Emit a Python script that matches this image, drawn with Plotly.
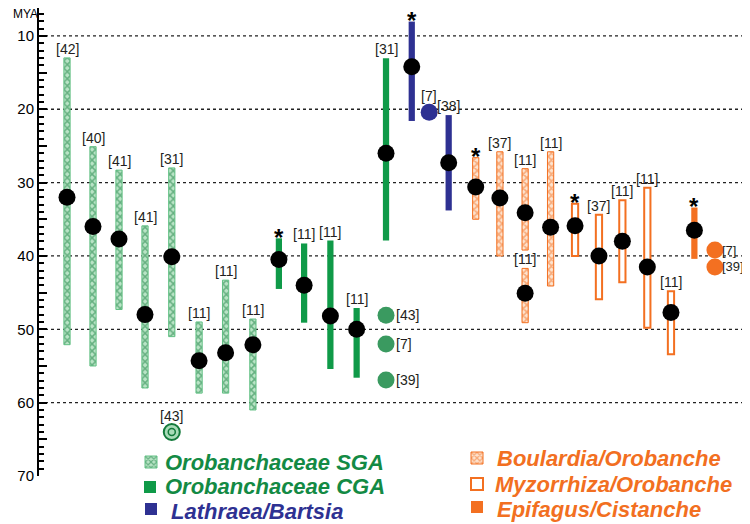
import plotly.graph_objects as go

# ---------------- data (million years ago) ----------------
sga_x    = [1.0, 2.0, 3.0, 4.0, 5.03, 6.08, 7.1, 8.15]
sga_min  = [13.0, 25.1, 28.3, 35.9, 28.0, 49.0, 43.3, 48.6]
sga_max  = [52.1, 55.0, 47.3, 58.0, 51.0, 58.7, 58.7, 61.0]
sga_mean = [32.0, 36.0, 37.7, 48.0, 40.1, 54.3, 53.2, 52.1]
sga_ref  = ["[42]", "[40]", "[41]", "[41]", "[31]", "[11]", "[11]", "[11]"]

sga_pt_x   = [5.03]
sga_pt_y   = [64.0]
sga_pt_ref = ["[43]"]

cga_x    = [9.15, 10.12, 11.13, 12.14, 13.27]
cga_min  = [37.6, 38.3, 37.9, 47.1, 13.05]
cga_max  = [44.5, 49.1, 55.4, 56.6, 37.9]
cga_mean = [40.5, 44.0, 48.2, 50.0, 26.0]
cga_ref  = ["*", "[11]", "[11]", "[11]", "[31]"]

cga_pt_x   = [13.27, 13.27, 13.27]
cga_pt_y   = [48.1, 52.0, 56.9]
cga_pt_ref = ["[43]", "[7]", "[39]"]

lat_x    = [14.26, 15.68]
lat_min  = [8.05, 20.8]
lat_max  = [21.6, 33.8]
lat_mean = [14.2, 27.3]
lat_ref  = ["*", "[38]"]

lat_pt_x   = [14.93]
lat_pt_y   = [20.4]
lat_pt_ref = ["[7]"]

bou_x    = [16.72, 17.65, 18.62, 18.62, 19.6]
bou_min  = [26.6, 25.8, 28.1, 41.7, 25.8]
bou_max  = [35.0, 40.0, 39.2, 49.1, 44.1]
bou_mean = [30.6, 32.1, 34.1, 45.1, 36.1]
bou_ref  = ["*", "[37]", "[11]", "[11]", "[11]"]

myz_x    = [20.54, 21.46, 22.36, 23.32, 24.23]
myz_min  = [32.9, 34.4, 32.4, 30.7, 44.8]
myz_max  = [40.0, 45.9, 43.6, 49.8, 53.4]
myz_mean = [35.9, 40.0, 38.0, 41.5, 47.7]
myz_ref  = ["*", "[37]", "[11]", "[11]", "[11]"]

epi_x    = [25.13]
epi_min  = [33.4]
epi_max  = [40.4]
epi_mean = [36.5]
epi_ref  = ["*"]

epi_pt_x   = [25.92, 25.92]
epi_pt_y   = [39.2, 41.5]
epi_pt_ref = ["[7]", "[39]"]

y_major = [10, 20, 30, 40, 50, 60, 70]
y_grid  = [10, 20, 30, 40, 50, 60]

group_names = ["Orobanchaceae SGA", "Orobanchaceae CGA", "Lathraea/Bartsia",
               "Boulardia/Orobanche", "Myzorrhiza/Orobanche", "Epifagus/Cistanche"]

# ---------------- layout constants ----------------
# the page body adds an 8px offset; the figure is sized to fit the window
OFF = 8
FIG_W, FIG_H = 750 - OFF, 524 - OFF
ML, MR, MT, MB = 39 - OFF, 0, 8 - OFF, 524 - 476
PW, PH = FIG_W - ML - MR, FIG_H - MT - MB
SLOT_PX = 26.0
X0 = -0.077
X_RANGE = [X0, X0 + PW / SLOT_PX]
Y_RANGE = [70, 6.2]

GREEN_TXT = "#138a44"
NAVY = "#2e3192"
ORANGE = "#f26f21"
LABEL_COL = "#231f20"
FONT = "Liberation Sans, Arial, sans-serif"


def px_x(px):
    """screen pixel -> paper x"""
    return (px - OFF - ML) / PW


def px_y(py):
    """screen pixel -> paper y"""
    return (FIG_H - MB - (py - OFF)) / PH


fig = go.Figure()

BAR_W = 0.24


def add_bars(x, lo, hi, legend, marker):
    fig.add_trace(go.Bar(
        x=x, base=lo, y=[h - l for l, h in zip(lo, hi)], width=BAR_W,
        marker=marker, name=" ", legend=legend, showlegend=True,
        hoverinfo="skip"))


sga_marker = dict(color="#b9e4c6", line=dict(color="#62c084", width=1),
                  pattern=dict(shape="x", fgcolor="#137a3b", bgcolor="#b9e4c6",
                               size=5, solidity=0.5))
cga_marker = dict(color="#0f9a48", line=dict(width=0))
lat_marker = dict(color=NAVY, line=dict(width=0))
bou_marker = dict(color="#fbd0ad", line=dict(color="#f37021", width=1),
                  pattern=dict(shape="x", fgcolor="#f37021", bgcolor="#fde3cf",
                               size=5, solidity=0.55))
myz_marker = dict(color="white", line=dict(color="#f37021", width=2))
epi_marker = dict(color="#f37021", line=dict(width=0))

add_bars(sga_x, sga_min, sga_max, "legend", sga_marker)
add_bars(cga_x, cga_min, cga_max, "legend2", cga_marker)
add_bars(lat_x, lat_min, lat_max, "legend3", lat_marker)
add_bars(bou_x, bou_min, bou_max, "legend4", bou_marker)
add_bars(myz_x, myz_min, myz_max, "legend5", myz_marker)
add_bars(epi_x, epi_min, epi_max, "legend6", epi_marker)

# single-point estimates
fig.add_trace(go.Scatter(x=sga_pt_x, y=sga_pt_y, mode="markers", showlegend=False,
                         marker=dict(size=16, color="#a8dcb8",
                                     line=dict(color="#137a3b", width=2)),
                         hoverinfo="skip"))
fig.add_trace(go.Scatter(x=sga_pt_x, y=sga_pt_y, mode="markers", showlegend=False,
                         marker=dict(size=7, symbol="circle-open", color="#137a3b",
                                     line=dict(color="#137a3b", width=1.5)),
                         hoverinfo="skip"))
fig.add_trace(go.Scatter(x=cga_pt_x, y=cga_pt_y, mode="markers", showlegend=False,
                         marker=dict(size=17, color="#3a9a60"), hoverinfo="skip"))
fig.add_trace(go.Scatter(x=lat_pt_x, y=lat_pt_y, mode="markers", showlegend=False,
                         marker=dict(size=17, color=NAVY), hoverinfo="skip"))
fig.add_trace(go.Scatter(x=epi_pt_x, y=epi_pt_y, mode="markers", showlegend=False,
                         marker=dict(size=17, color="#f37021"), hoverinfo="skip"))

# mean dots
for xs, ms in [(sga_x, sga_mean), (cga_x, cga_mean), (lat_x, lat_mean),
               (bou_x, bou_mean), (myz_x, myz_mean), (epi_x, epi_mean)]:
    fig.add_trace(go.Scatter(x=xs, y=ms, mode="markers", showlegend=False,
                             marker=dict(size=17, color="black"), hoverinfo="skip"))

# ---------------- annotations ----------------
annotations = []


def bar_labels(xs, los, refs):
    for x, lo, r in zip(xs, los, refs):
        if r == "*":
            annotations.append(dict(x=x, y=lo, text="<b>*</b>", showarrow=False,
                                    xanchor="center", yanchor="middle", yshift=1,
                                    font=dict(family=FONT, size=24, color="black")))
        else:
            annotations.append(dict(x=x, y=lo, text=r, showarrow=False,
                                    xanchor="center", yanchor="middle", yshift=9,
                                    font=dict(family=FONT, size=14, color=LABEL_COL)))


bar_labels(sga_x, sga_min, sga_ref)
bar_labels(cga_x, cga_min, cga_ref)
bar_labels(lat_x, lat_min, lat_ref)
bar_labels(bou_x, bou_min, bou_ref)
bar_labels(myz_x, myz_min, myz_ref)
bar_labels(epi_x, epi_min, epi_ref)


def point_labels_above(xs, ys, refs):
    for x, y, r in zip(xs, ys, refs):
        annotations.append(dict(x=x, y=y, text=r, showarrow=False,
                                xanchor="center", yanchor="middle", yshift=16,
                                font=dict(family=FONT, size=14, color=LABEL_COL)))


def point_labels_right(xs, ys, refs, shift, size):
    for x, y, r in zip(xs, ys, refs):
        annotations.append(dict(x=x, y=y, text=r, showarrow=False,
                                xanchor="left", yanchor="middle", xshift=shift,
                                font=dict(family=FONT, size=size, color=LABEL_COL)))


point_labels_above(sga_pt_x, sga_pt_y, sga_pt_ref)
point_labels_above(lat_pt_x, lat_pt_y, lat_pt_ref)
point_labels_right(cga_pt_x, cga_pt_y, cga_pt_ref, 8, 14)
point_labels_right(epi_pt_x, epi_pt_y, epi_pt_ref, 5, 13)

annotations.append(dict(xref="paper", x=px_x(11), yref="paper", y=px_y(14), text="MYA",
                        showarrow=False, xanchor="left", yanchor="middle",
                        font=dict(family=FONT, size=12, color="black")))

# legend texts (pixel placement of the key)
legend_text_pos = [(163, 462), (163, 487), (169, 511), (495, 458), (493, 484), (495, 509)]
legend_swatch_x = [151, 150, 151, 477, 477, 477]
legend_swatch_y = [462, 487, 509, 458, 484, 507]
legend_colors = [GREEN_TXT, GREEN_TXT, NAVY, ORANGE, ORANGE, ORANGE]
for name, (tx, ty), col in zip(group_names, legend_text_pos, legend_colors):
    annotations.append(dict(xref="paper", yref="paper", x=px_x(tx), y=px_y(ty),
                            text="<b><i>" + name + "</i></b>", showarrow=False,
                            xanchor="left", yanchor="middle",
                            font=dict(family=FONT, size=22, color=col)))

# ---------------- gridlines ----------------
shapes = [dict(type="line", xref="paper", x0=0, x1=px_x(742), yref="y", y0=g, y1=g,
               layer="below", line=dict(color="#222", width=1.3, dash="dot"))
          for g in y_grid]


# ---------------- legend swatches ----------------
def leg(swatch_x, y_center):
    return dict(x=px_x(swatch_x - 20), y=px_y(y_center), xanchor="left",
                yanchor="middle", bgcolor="rgba(0,0,0,0)", borderwidth=0,
                font=dict(family=FONT, size=10, color="black"))


tick_vals = list(range(10, 71, 5))
tick_text = [str(v) if v in y_major else "" for v in tick_vals]

layout_legends = {}
for i, (sx, sy) in enumerate(zip(legend_swatch_x, legend_swatch_y)):
    key = "legend" if i == 0 else "legend%d" % (i + 1)
    layout_legends[key] = leg(sx, sy)

fig.update_layout(
    width=FIG_W, height=FIG_H,
    margin=dict(l=ML, r=MR, t=MT, b=MB),
    paper_bgcolor="white", plot_bgcolor="white",
    barmode="overlay",
    showlegend=True,
    xaxis=dict(range=X_RANGE, visible=False, fixedrange=True),
    yaxis=dict(range=Y_RANGE, tickmode="array", tickvals=tick_vals, ticktext=tick_text,
               ticks="inside", ticklen=8, tickwidth=2, tickcolor="black",
               showline=True, linecolor="black", linewidth=2, showgrid=False,
               zeroline=False, automargin=False,
               tickfont=dict(family=FONT, size=15, color="black"),
               minor=dict(dtick=1, tick0=0, ticks="inside", ticklen=5, tickwidth=1.5,
                          tickcolor="black", showgrid=False)),
    shapes=shapes,
    annotations=annotations,
    **layout_legends,
)

fig.write_html("out.html")
